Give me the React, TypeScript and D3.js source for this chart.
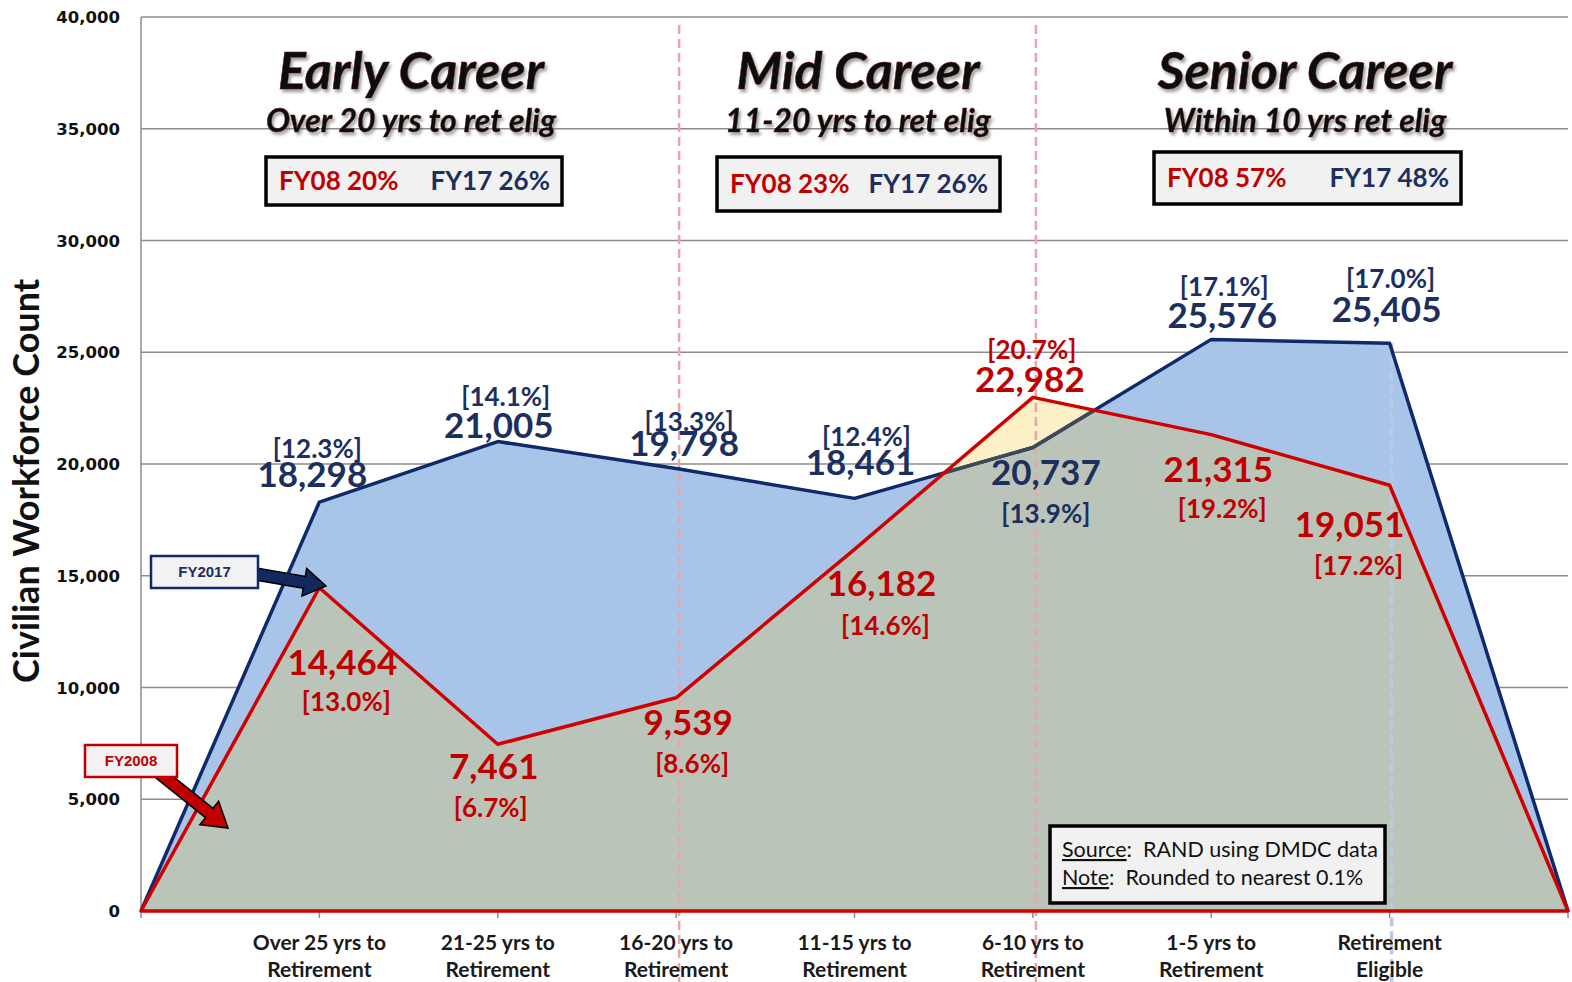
import React from "react";
import * as d3 from "d3";

// ---------- data ----------
const categories = ["", "Over 25 yrs to|Retirement", "21-25 yrs to|Retirement", "16-20 yrs to|Retirement", "11-15 yrs to|Retirement", "6-10 yrs to|Retirement", "1-5 yrs to|Retirement", "Retirement|Eligible", " "];
const fy2017 = [0, 18298, 21005, 19798, 18461, 20737, 25576, 25405, 0];
const fy2008 = [0, 14464, 7461, 9539, 16182, 22982, 21315, 19051, 0];
const pct2017 = ["", "[12.3%]", "[14.1%]", "[13.3%]", "[12.4%]", "[13.9%]", "[17.1%]", "[17.0%]", ""];
const pct2008 = ["", "[13.0%]", "[6.7%]", "[8.6%]", "[14.6%]", "[20.7%]", "[19.2%]", "[17.2%]", ""];
const yTicks = [0, 5000, 10000, 15000, 20000, 25000, 30000, 35000, 40000];
const phases = [
  { title: "Early Career", sub: "Over 20 yrs to ret elig", fy08: "FY08 20%", fy17: "FY17 26%" },
  { title: "Mid Career", sub: "11-20 yrs to ret elig", fy08: "FY08 23%", fy17: "FY17 26%" },
  { title: "Senior Career", sub: "Within 10 yrs ret elig", fy08: "FY08 57%", fy17: "FY17 48%" },
];

// ---------- layout (not data) ----------
const W = 1572, H = 982;
const L = 141, R = 1568, T = 17, B = 911;
const NAVY = "#1C2F5E";
const LINE_NAVY = "#0F2A6B";
const RED = "#C00000";
const FONT = "Lato, 'Open Sans', sans-serif";
// label offsets relative to data point: [dxValue, dyValue, dxPct, dyPct]
const off2017 = [null, [-7, -15, -2, -44], [1, -4, 8, -36], [8, -13, 13, -38], [6, -23, 12, -52], [13, 37, 13, 75], [11, -11, 13, -43], [-3, -21, 1, -55], null];
const off2008 = [null, [23, 87, 27, 123], [-4, 35, -7, 73], [12, 37, 16, 75], [27, 47, 31, 86], [-3, -5, -1, -38], [7, 47, 11, 83], [-40, 52, -31, 90], null];
const phaseCenters = [411, 858, 1305];
const phaseBoxes = [
  { x: 266, y: 157, w: 296, h: 48 },
  { x: 717, y: 157, w: 283, h: 54 },
  { x: 1154, y: 152, w: 307, h: 52 },
];

function arrowPoly(x1: number, y1: number, x2: number, y2: number, shaft: number, headL: number, headW: number) {
  const dx = x2 - x1, dy = y2 - y1;
  const len = Math.hypot(dx, dy);
  const ux = dx / len, uy = dy / len;
  const px = -uy, py = ux;
  const bx = x2 - ux * headL, by = y2 - uy * headL;
  const pts = [
    [x1 + px * shaft / 2, y1 + py * shaft / 2],
    [bx + px * shaft / 2, by + py * shaft / 2],
    [bx + px * headW / 2, by + py * headW / 2],
    [x2, y2],
    [bx - px * headW / 2, by - py * headW / 2],
    [bx - px * shaft / 2, by - py * shaft / 2],
    [x1 - px * shaft / 2, y1 - py * shaft / 2],
  ];
  return pts.map((p) => p.join(",")).join(" ");
}

export default function App() {
  const idx = d3.range(categories.length).map(String);
  const x = d3.scalePoint<string>().domain(idx).range([L, R]);
  const y = d3.scaleLinear().domain([0, 40000]).range([B, T]);
  const xi = (i: number) => x(String(i)) as number;

  const area = d3.area<number>().x((_, i) => xi(i)).y0(y(0)).y1((d) => y(d));
  const line = d3.line<number>().x((_, i) => xi(i)).y((d) => y(d));
  const area17 = area(fy2017) as string;
  const area08 = area(fy2008) as string;
  const line17 = line(fy2017) as string;
  const line08 = (line(fy2008) as string) + "Z";

  const fmt = d3.format(",");

  return (
    <svg width={W} height={H} style={{ position: "absolute", left: 0, top: 0, background: "#fff" }} fontFamily={FONT}>
      <defs>
        <clipPath id="clip17"><path d={area17} /></clipPath>
        <clipPath id="clip08"><path d={area08} /></clipPath>
        <filter id="shadow" x="-10%" y="-30%" width="120%" height="170%">
          <feDropShadow dx="2" dy="3" stdDeviation="1.5" floodColor="#555" floodOpacity="0.55" />
        </filter>
      </defs>

      {/* gridlines */}
      {yTicks.map((t) => (
        <line key={t} x1={L} x2={R} y1={y(t)} y2={y(t)} stroke="#8c8c8c" strokeWidth={1.5} />
      ))}
      <line x1={L} x2={L} y1={T} y2={B + 7} stroke="#8c8c8c" strokeWidth={1.5} />

      {/* areas */}
      <path d={area17} fill="#A9C4E9" />
      <path d={area08} fill="#FDEFC6" />
      <path d={area08} fill="#BAC4B9" clipPath="url(#clip17)" />

      {/* x ticks */}
      {idx.slice(1).map((k) => (
        <line key={k} x1={x(k)} x2={x(k)} y1={B} y2={B + 7} stroke="#8c8c8c" strokeWidth={1.5} />
      ))}

      {/* divider lines */}
      {[3, 5].map((i) => (
        <line key={i} x1={xi(i) + 3} x2={xi(i) + 3} y1={25} y2={H} stroke="#E9A5A8" strokeWidth={2.5} strokeDasharray="9 5" />
      ))}
      <line x1={xi(7) + 2} x2={xi(7) + 2} y1={y(fy2017[7])} y2={H} stroke="#B9CBE3" strokeWidth={3.5} strokeDasharray="9 5" />

      {/* lines */}
      <path d={line17} fill="none" stroke={LINE_NAVY} strokeWidth={3.5} strokeLinejoin="round" />
      <path d={line17} fill="none" stroke="#3E4A57" strokeWidth={3.5} strokeLinejoin="round" clipPath="url(#clip08)" />
      <path d={line08} fill="none" stroke="#D00000" strokeWidth={3.5} strokeLinejoin="round" />

      {/* y tick labels */}
      {yTicks.map((t) => (
        <text key={t} x={120} y={y(t) + 6} textAnchor="end" fontFamily="'DejaVu Sans', sans-serif" fontWeight="bold" fontSize={16.5} fill="#111">
          {fmt(t)}
        </text>
      ))}
      <text transform={`translate(39,481) rotate(-90)`} textAnchor="middle" fontWeight="bold" fontSize={36} fill="#111">
        Civilian Workforce Count
      </text>

      {/* category labels */}
      {categories.map((c, i) => {
        if (!c.trim()) return null;
        const [a, b] = c.split("|");
        return (
          <text key={i} x={xi(i)} textAnchor="middle" fontWeight="bold" fontSize={21} fill="#1a1a1a">
            <tspan x={xi(i)} y={950}>{a}</tspan>
            <tspan x={xi(i)} y={977}>{b}</tspan>
          </text>
        );
      })}

      {/* data labels FY2017 */}
      {fy2017.map((v, i) => {
        const o = off2017[i];
        if (!o) return null;
        return (
          <g key={"a" + i} fontWeight="bold" fill={NAVY} textAnchor="middle">
            <text x={xi(i) + o[0]} y={y(v) + o[1]} fontSize={35}>{fmt(v)}</text>
            <text x={xi(i) + o[2]} y={y(v) + o[3]} fontSize={26}>{pct2017[i]}</text>
          </g>
        );
      })}
      {/* data labels FY2008 */}
      {fy2008.map((v, i) => {
        const o = off2008[i];
        if (!o) return null;
        return (
          <g key={"b" + i} fontWeight="bold" fill={RED} textAnchor="middle">
            <text x={xi(i) + o[0]} y={y(v) + o[1]} fontSize={35}>{fmt(v)}</text>
            <text x={xi(i) + o[2]} y={y(v) + o[3]} fontSize={26}>{pct2008[i]}</text>
          </g>
        );
      })}

      {/* phase headers */}
      {phases.map((p, k) => {
        const bx = phaseBoxes[k];
        return (
          <g key={p.title}>
            <text x={phaseCenters[k]} y={89} textAnchor="middle" fontWeight="bold" fontStyle="italic" fontSize={52} fill="#0a0a0a" stroke="#6a1010" strokeWidth={0.5} filter="url(#shadow)">
              {p.title}
            </text>
            <text x={phaseCenters[k]} y={132} textAnchor="middle" fontWeight="bold" fontStyle="italic" fontSize={32} fill="#0a0a0a" stroke="#6a1010" strokeWidth={0.4} filter="url(#shadow)">
              {p.sub}
            </text>
            <rect x={bx.x} y={bx.y} width={bx.w} height={bx.h} fill="#F1F1F1" stroke="#000" strokeWidth={3.5} />
            <text x={bx.x + 13} y={bx.y + bx.h / 2 + 9} fontSize={26} fontWeight="bold" fill={RED}>{p.fy08}</text>
            <text x={bx.x + bx.w - 12} y={bx.y + bx.h / 2 + 9} textAnchor="end" fontSize={26} fontWeight="bold" fill={NAVY}>{p.fy17}</text>
          </g>
        );
      })}

      {/* legend callouts */}
      <polygon points={arrowPoly(256, 574, 326, 586, 12, 22, 28)} fill="#12295E" stroke="#000" strokeWidth={1.5} />
      <rect x={151} y={556} width={107} height={32} fill="#F2F2F2" stroke={LINE_NAVY} strokeWidth={2.5} />
      <text x={204.5} y={577} textAnchor="middle" fontFamily="'Liberation Sans', Arial, sans-serif" fontWeight="bold" fontSize={15} fill={NAVY}>FY2017</text>

      <polygon points={arrowPoly(158, 772, 228, 828, 12, 24, 30)} fill={RED} stroke="#000" strokeWidth={1.5} />
      <rect x={85} y={745} width={92} height={32} fill="#F2F2F2" stroke={RED} strokeWidth={2.5} />
      <text x={131} y={766} textAnchor="middle" fontFamily="'Liberation Sans', Arial, sans-serif" fontWeight="bold" fontSize={15} fill={RED}>FY2008</text>

      {/* source box */}
      <rect x={1050} y={826} width={335} height={77} fill="#F1F1F1" stroke="#000" strokeWidth={3.5} />
      <text x={1062} y={857} fontSize={21.5} fill="#111" style={{ whiteSpace: "pre" }}>
        <tspan textDecoration="underline">Source</tspan>{":  RAND using DMDC data"}
      </text>
      <text x={1062} y={885} fontSize={21.5} fill="#111" style={{ whiteSpace: "pre" }}>
        <tspan textDecoration="underline">Note</tspan>{":  Rounded to nearest 0.1%"}
      </text>
    </svg>
  );
}
